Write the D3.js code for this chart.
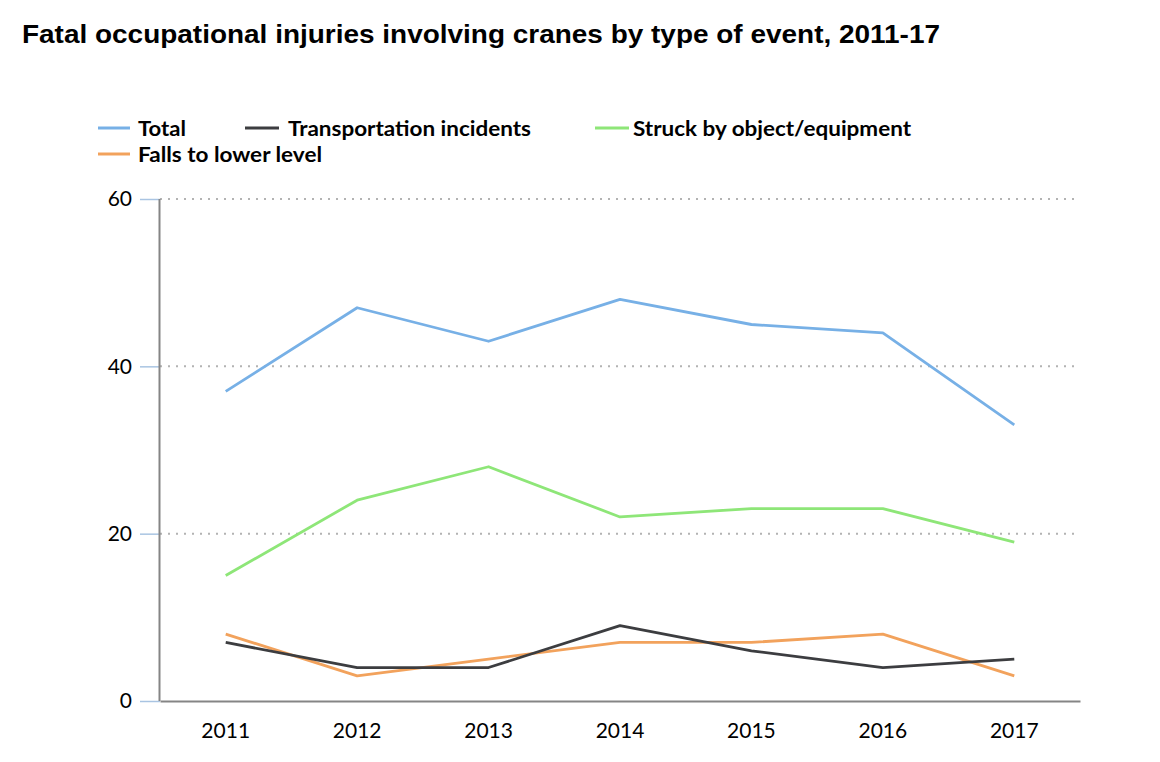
<!DOCTYPE html>
<html><head><meta charset="utf-8">
<script src="https://cdn.jsdelivr.net/npm/d3@7"></script>
<style>body{margin:0;background:#fff}</style>
</head><body>
<svg id="c" width="1160" height="762"></svg>
<script>
const years = ["2011","2012","2013","2014","2015","2016","2017"];
const total = [37,47,43,48,45,44,33];
const transportation = [7,4,4,9,6,4,5];
const struck = [15,24,28,22,23,23,19];
const falls = [8,3,5,7,7,8,3];
const yTicks = [0,20,40,60];
const seriesNames = ["Total","Transportation incidents","Struck by object/equipment","Falls to lower level"];
const seriesColors = ["#77b0e6","#3c3d40","#8ee678","#f2a25c"];

const series = [total, transportation, struck, falls];
const svg = d3.select("#c");
const fontBody = "Lato, 'Open Sans', sans-serif";

svg.append("text").attr("x",22).attr("y",43)
  .attr("font-family","'Liberation Sans Narrow', 'Liberation Sans', Arial, sans-serif").attr("font-weight","bold")
  .attr("font-size",26).attr("fill","#000")
  .attr("textLength",918).attr("lengthAdjust","spacingAndGlyphs")
  .text("Fatal occupational injuries involving cranes by type of event, 2011-17");

const x = d3.scaleBand().domain(years).range([160,1080]);
const y = d3.scaleLinear().domain([0,60]).range([701,199]);

// gridlines
svg.append("g").selectAll("line").data(yTicks.filter(d=>d>0)).join("line")
  .attr("x1",160).attr("x2",1076).attr("y1",d=>y(d)).attr("y2",d=>y(d))
  .attr("stroke","#b3b3b3").attr("stroke-width",2).attr("stroke-dasharray","2,6");

// y axis
const ya = svg.append("g").attr("transform","translate(160,0)")
  .call(d3.axisLeft(y).tickValues(yTicks).tickSize(20).tickPadding(8));
ya.select(".domain").remove();
ya.selectAll(".tick line").attr("stroke","#a9c4e2").attr("stroke-width",1.5);
ya.selectAll(".tick text").attr("font-family",fontBody).attr("font-size",21).attr("fill","#000");
svg.append("line").attr("x1",159.5).attr("x2",159.5).attr("y1",199).attr("y2",701)
  .attr("stroke","#858585").attr("stroke-width",2);

// x axis
const xa = svg.append("g").attr("transform","translate(0,701)")
  .call(d3.axisBottom(x).tickSize(0).tickPadding(22));
xa.select(".domain").attr("stroke","#858585").attr("stroke-width",2);
xa.selectAll(".tick text").attr("font-family",fontBody).attr("font-size",21).attr("fill","#000");

// lines
const line = d3.line().x((d,i)=>x(years[i])+x.bandwidth()/2).y(d=>y(d));
const order = [3,1,2,0];
svg.append("g").selectAll("path").data(order).join("path")
  .attr("d",k=>line(series[k])).attr("fill","none")
  .attr("stroke",k=>seriesColors[k]).attr("stroke-width",2.8)
  .attr("stroke-linejoin","round");

// legend
const legPos = [[98,128],[245,128],[595,128],[98,154]];
const legLen = [48,243,278,184];
const lg = svg.append("g").selectAll("g").data(seriesNames).join("g")
  .attr("transform",(d,i)=>`translate(${legPos[i][0]},${legPos[i][1]})`);
lg.append("line").attr("x1",0).attr("x2",(d,i)=>i===1||i===2?34:32).attr("y1",0).attr("y2",0)
  .attr("stroke",(d,i)=>seriesColors[i]).attr("stroke-width",3);
lg.append("text").attr("x",(d,i)=>i===1?43:i===2?38:40).attr("y",8).attr("font-family",fontBody)
  .attr("font-weight","bold").attr("font-size",21).attr("fill","#000")
  .attr("textLength",(d,i)=>legLen[i]).attr("lengthAdjust","spacingAndGlyphs").text(d=>d);
</script>
</body></html>
